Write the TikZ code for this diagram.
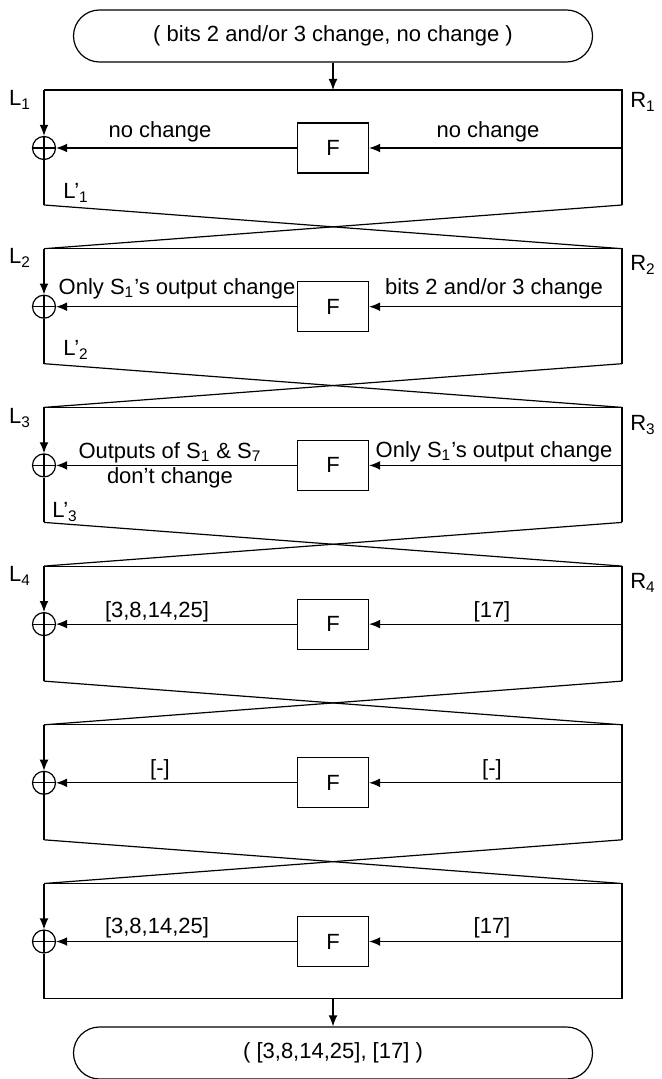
\documentclass[tikz,border=0pt]{standalone}
\usepackage{fontspec}
\setmainfont{Liberation Sans}
\usetikzlibrary{arrows.meta}
\newcommand{\apos}{{\char"27}}
\tikzset{
  ln/.style={line width=0.6pt},
  arr/.style={-{Latex[length=5.5pt,width=4.4pt]},line width=0.6pt},
  fbox/.style={draw,line width=0.6pt,minimum width=35.5pt,minimum height=25pt,inner sep=0pt},
  xor/.style={circle,draw,line width=0.6pt,minimum size=11.5pt,inner sep=0pt,
    path picture={\draw[line width=0.6pt]
      (path picture bounding box.north)--(path picture bounding box.south)
      (path picture bounding box.west)--(path picture bounding box.east);}},
  term/.style={draw,line width=0.6pt,rounded corners=13pt,minimum width=259.5pt,minimum height=26pt},
  lab/.style={inner sep=0pt,align=center},
}

\begin{document}
\begin{tikzpicture}[x=0.5pt,y=-0.5pt,font=\fontsize{11pt}{12.5pt}\selectfont]
  \useasboundingbox (0,0) rectangle (662,1079);
  % rounds
  \foreach \i in {1,...,6}{
    \pgfmathsetmacro{\ytop}{90+158.7*(\i-1)}
    \pgfmathsetmacro{\yarr}{\ytop+58}
    \pgfmathsetmacro{\ybot}{\ytop+115}
    \coordinate (tl\i) at (44,\ytop);
    \coordinate (tr\i) at (622,\ytop);
    \coordinate (tm\i) at (333,\ytop);
    \coordinate (bl\i) at (44,\ybot);
    \coordinate (br\i) at (622,\ybot);
    \coordinate (bm\i) at (333,\ybot);
    \coordinate (fr\i) at (622,\yarr);
    \node[fbox] (f\i) at (333,\yarr) {F};
    \node[xor] (x\i) at (44,\yarr) {};
    \draw[ln] (tl\i) -- (tr\i) -- (br\i);
    \draw[arr] (tl\i) -- (x\i.north);
    \draw[ln] (x\i.south) -- (bl\i);
    \draw[arr] (fr\i) -- (f\i.east);
    \draw[arr] (f\i.west) -- (x\i.east);
  }
  % swaps
  \foreach \i/\j in {1/2,2/3,3/4,4/5,5/6}{
    \draw[ln] (bl\i) -- (tr\j);
    \draw[ln] (br\i) -- (tl\j);
  }
  \draw[ln] (bl6) -- (br6);
  % input and output
  \node[term] (in) at (333,36) {( bits 2 and/or 3 change, no change )};
  \node[term] (out) at (333,1053) {( [3,8,14,25], [17] )};
  \draw[arr] (in.south) -- (tm1);
  \draw[arr] (bm6) -- (out.north);
  % round 1
  \node[lab] (ll1) at (20,100) {L\textsubscript{1}};
  \node[lab] (rr1) at (643,102) {R\textsubscript{1}};
  \node[lab] (lp1) at (76,193) {L’\textsubscript{1}};
  \node[lab] (dl1) at (160,132) {no change};
  \node[lab] (dr1) at (488,132) {no change};
  % round 2
  \node[lab] (ll2) at (20,258) {L\textsubscript{2}};
  \node[lab] (rr2) at (643,265) {R\textsubscript{2}};
  \node[lab] (lp2) at (76,350) {L’\textsubscript{2}};
  \node[lab] (dl2) at (177,289) {Only S\textsubscript{1}\apos s output change};
  \node[lab] (dr2) at (494,289) {bits 2 and/or 3 change};
  % round 3
  \node[lab] (ll3) at (20,418) {L\textsubscript{3}};
  \node[lab] (rr3) at (643,425) {R\textsubscript{3}};
  \node[lab] (lp3) at (65,512) {L’\textsubscript{3}};
  \node[lab] (dl3) at (170,465) {Outputs of S\textsubscript{1} \& S\textsubscript{7}\\don’t change};
  \node[lab] (dr3) at (494,452) {Only S\textsubscript{1}\apos s output change};
  % round 4
  \node[lab] (ll4) at (20,576) {L\textsubscript{4}};
  \node[lab] (rr4) at (643,583) {R\textsubscript{4}};
  \node[lab] (dl4) at (157,612) {[3,8,14,25]};
  \node[lab] (dr4) at (492,612) {[17]};
  % round 5
  \node[lab] (dl5) at (160,770) {[-]};
  \node[lab] (dr5) at (492,770) {[-]};
  % round 6
  \node[lab] (dl6) at (157,928) {[3,8,14,25]};
  \node[lab] (dr6) at (492,928) {[17]};
\end{tikzpicture}
\end{document}
